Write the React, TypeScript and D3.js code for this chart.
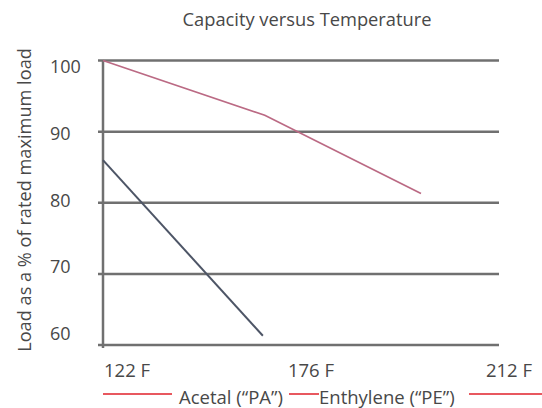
import React from "react";
import * as d3 from "d3";

const title = "Capacity versus Temperature";
const yAxisTitle = "Load as a % of rated maximum load";
const yTicks = [100, 90, 80, 70, 60];
const xTicks = [122, 176, 212];
const xTickLabels = ["122 F", "176 F", "212 F"];
const legendLabels = ["Acetal (\u201CPA\u201D)", "Enthylene (\u201CPE\u201D)"];

const seriesPinkTemp = [122, 164, 196];
const seriesPinkLoad = [100, 92.3, 81.3];
const seriesSlateTemp = [122, 163.5];
const seriesSlateLoad = [86, 61.3];

const W = 542;
const H = 408;
const FONT = "'Open Sans', sans-serif";
const TEXT = "#484848";
const GRID = "#707070";

export default function App() {
  const x = d3.scaleLinear().domain([122, 176, 212]).range([103, 311, 509]);
  const y = d3.scaleLinear().domain([60, 100]).range([345, 60.5]);
  const labelY = d3.scaleLinear().domain([60, 100]).range([340, 73]);
  const line = d3
    .line<[number, number]>()
    .x((d) => x(d[0]))
    .y((d) => y(d[1]));
  const pink: [number, number][] = seriesPinkTemp.map((t, i) => [t, seriesPinkLoad[i]]);
  const slate: [number, number][] = seriesSlateTemp.map((t, i) => [t, seriesSlateLoad[i]]);

  const gridX0 = 98;
  const gridX1 = 499;

  return (
    <svg
      width={W}
      height={H}
      style={{ position: "absolute", left: 0, top: 0, background: "#fff" }}
      fontFamily={FONT}
    >
      <text x={307} y={26} textAnchor="middle" fontSize={18.3} fill={TEXT}>
        {title}
      </text>
      <text
        transform={`translate(31,200) rotate(-90)`}
        textAnchor="middle"
        fontSize={18.2}
        fill={TEXT}
      >
        {yAxisTitle}
      </text>
      {yTicks.map((v) => (
        <g key={v}>
          <line
            x1={gridX0}
            x2={gridX1}
            y1={y(v)}
            y2={y(v)}
            stroke={GRID}
            strokeWidth={2.5}
          />
          <text x={50} y={labelY(v)} fontSize={18} fill={TEXT}>
            {v}
          </text>
        </g>
      ))}
      <line x1={x(122)} x2={x(122)} y1={y(100)} y2={348} stroke={GRID} strokeWidth={2.5} />
      <path d={line(pink) || ""} fill="none" stroke="#bb6a84" strokeWidth={1.7} />
      <path d={line(slate) || ""} fill="none" stroke="#4d5566" strokeWidth={2} />
      {xTicks.map((t, i) => (
        <text
          key={t}
          x={i === 0 ? x(t) + 1 : x(t)}
          y={377}
          textAnchor={i === 0 ? "start" : "middle"}
          fontSize={18.5}
          fill={TEXT}
        >
          {xTickLabels[i]}
        </text>
      ))}
      <line x1={103} x2={172} y1={394} y2={394} stroke="#e0202a" strokeWidth={1.5} />
      <text x={179} y={404} fontSize={18.5} fill={TEXT}>
        {legendLabels[0]}
      </text>
      <line x1={289} x2={319} y1={394} y2={394} stroke="#e0202a" strokeWidth={1.5} />
      <text x={319} y={404} fontSize={18.5} fill={TEXT}>
        {legendLabels[1]}
      </text>
      <line x1={469} x2={542} y1={394} y2={394} stroke="#e0202a" strokeWidth={1.5} />
    </svg>
  );
}
